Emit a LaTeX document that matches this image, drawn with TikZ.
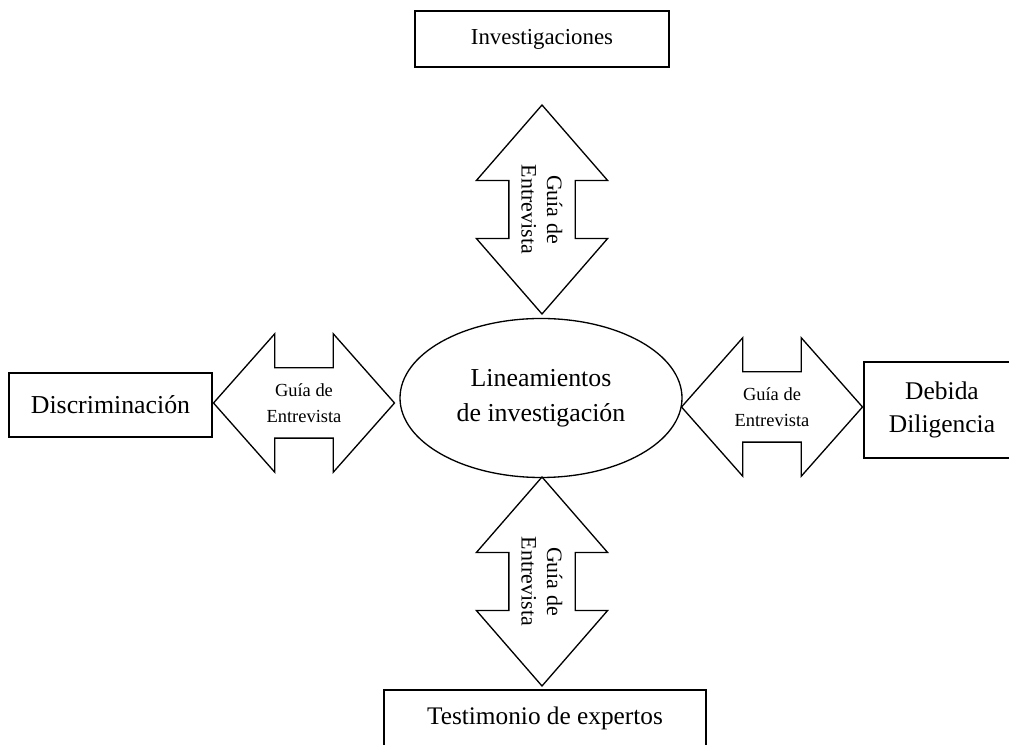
\documentclass[tikz,border=0pt]{standalone}
\usepackage{fontspec}
\setmainfont{Liberation Serif}
\usepackage{tikz}
\usetikzlibrary{shapes.geometric}
\usetikzlibrary{shapes.arrows}
\usetikzlibrary{positioning,calc}

\tikzset{
  caja/.style={draw, line width=0.75pt, rectangle, inner sep=0pt, align=center},
  flecha/.style={draw, line width=0.75pt, double arrow, inner xsep=0pt, inner ysep=0.69cm,
    double arrow head extend=0.68cm, double arrow tip angle=97,
    minimum width=2.74cm, minimum height=3.62cm},
  flechav/.style={flecha, rotate=90, inner ysep=0.65cm, double arrow head extend=0.65cm,
    double arrow tip angle=82, minimum width=2.6cm, minimum height=4.18cm},
  guia/.style={align=center, inner sep=0pt, font=\fontsize{10.5}{15}\selectfont},
  guiav/.style={guia, rotate=-90, font=\fontsize{12.5}{14.5}\selectfont}
}

\begin{document}
\begin{tikzpicture}

\path[use as bounding box, clip] (0,0) rectangle (20.18,14.9);

\node[caja, minimum width=5.08cm, minimum height=1.12cm, font=\fontsize{13}{15}\selectfont] (inv) at (10.84,14.12) {Investigaciones};
\node[draw, line width=0.75pt, ellipse, inner sep=0pt, align=center, minimum width=5.64cm, minimum height=3.18cm,
  font=\fontsize{14.7}{19.8}\selectfont] (lin) at (10.82,6.94) {Lineamientos\\de investigación};
\node[caja, minimum width=4.06cm, minimum height=1.28cm, font=\fontsize{14.7}{17}\selectfont] (dis) at (2.21,6.8) {Discriminación};
\node[caja, minimum width=3.12cm, minimum height=1.92cm, font=\fontsize{14.5}{18.7}\selectfont] (deb) at (18.84,6.7) {Debida\\Diligencia};
\node[caja, minimum width=6.44cm, minimum height=1.12cm, font=\fontsize{14.4}{17}\selectfont] (tes) at (10.9,0.54) {Testimonio de expertos};

% flechas con la guia de entrevista
\node[flechav] (fsup) at (10.84,10.71) {};
\node[guiav] (gsup) at (fsup.center) {Guía de\\Entrevista};
\node[flechav] (finf) at (10.84,3.27) {};
\node[guiav] (ginf) at (finf.center) {Guía de\\Entrevista};
\node[flecha] (fizq) at (6.08,6.84) {};
\node[guia] (gizq) at (fizq.center) {Guía de\\Entrevista};
\node[flecha] (fder) at (15.44,6.76) {};
\node[guia] (gder) at (fder.center) {Guía de\\Entrevista};

\end{tikzpicture}
\end{document}
